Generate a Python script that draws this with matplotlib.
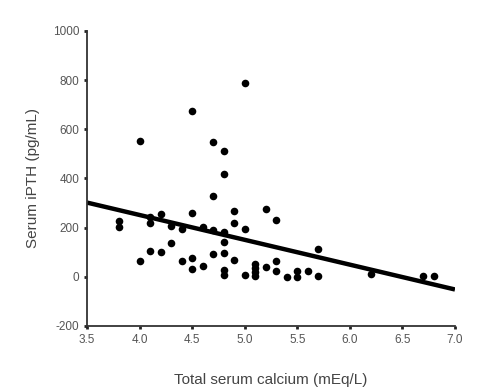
import numpy as np
import matplotlib
matplotlib.use("Agg")
import matplotlib.pyplot as plt

plt.rcParams['font.family'] = ['Liberation Sans', 'DejaVu Sans']
plt.rcParams['axes.unicode_minus'] = False

# total serum calcium (mEq/L) vs serum iPTH (pg/mL)
calcium = [3.8, 3.8,
           4.0, 4.0,
           4.1, 4.1, 4.1,
           4.2, 4.2,
           4.3, 4.3,
           4.4, 4.4,
           4.5, 4.5, 4.5, 4.5,
           4.6, 4.6,
           4.7, 4.7, 4.7, 4.7,
           4.8, 4.8, 4.8, 4.8, 4.8, 4.8, 4.8,
           4.9, 4.9, 4.9,
           5.0, 5.0, 5.0,
           5.1, 5.1, 5.1, 5.1,
           5.2, 5.2,
           5.3, 5.3, 5.3,
           5.4,
           5.5, 5.5,
           5.6,
           5.7, 5.7,
           6.2,
           6.7, 6.8]
ipth = [228, 204,
        554, 65,
        244, 220, 103,
        255, 99,
        208, 138,
        194, 66,
        676, 259, 78, 33,
        202, 45,
        547, 330, 190, 94,
        510, 420, 181, 140, 95, 29, 6,
        268, 219, 68,
        789, 196, 8,
        52, 36, 20, 4,
        276, 40,
        231, 66, 24,
        0,
        24, 1,
        25,
        113, 4,
        11,
        4, 4]

# regression line
fit_slope = -101.0
fit_intercept = 655.5
fit_x = [3.5, 7.0]

xticks = [3.5, 4.0, 4.5, 5.0, 5.5, 6.0, 6.5, 7.0]
yticks = [-200, 0, 200, 400, 600, 800, 1000]

fig = plt.figure(figsize=(4.87, 3.92), dpi=100)
ax = fig.add_axes([0.1786, 0.1684, 0.7556, 0.7526])

ax.scatter(calcium, ipth, s=30, color='black', zorder=3, linewidths=0)
fx = np.array(fit_x)
ax.plot(fx, fit_slope * fx + fit_intercept, color='black', lw=3.2, zorder=2,
        solid_capstyle='butt')

ax.set_xlim(3.5, 7.0)
ax.set_ylim(-200, 1000)
ax.set_xticks(xticks)
ax.set_xticklabels(['%.1f' % t for t in xticks])
ax.set_yticks(yticks)

for side in ['top', 'right']:
    ax.spines[side].set_visible(False)
for side in ['left', 'bottom']:
    ax.spines[side].set_linewidth(1.3)
    ax.spines[side].set_color('#333333')

ax.tick_params(direction='out', length=2.5, width=2, color='#222222',
               labelsize=8.5, labelcolor='#555555', pad=3)

ax.set_xlabel('Total serum calcium (mEq/L)', fontsize=11, color='#444444',
              labelpad=20)
ax.set_ylabel('Serum iPTH (pg/mL)', fontsize=11, color='#444444',
              labelpad=9)

plt.savefig("out.png", format="png", dpi=100)
